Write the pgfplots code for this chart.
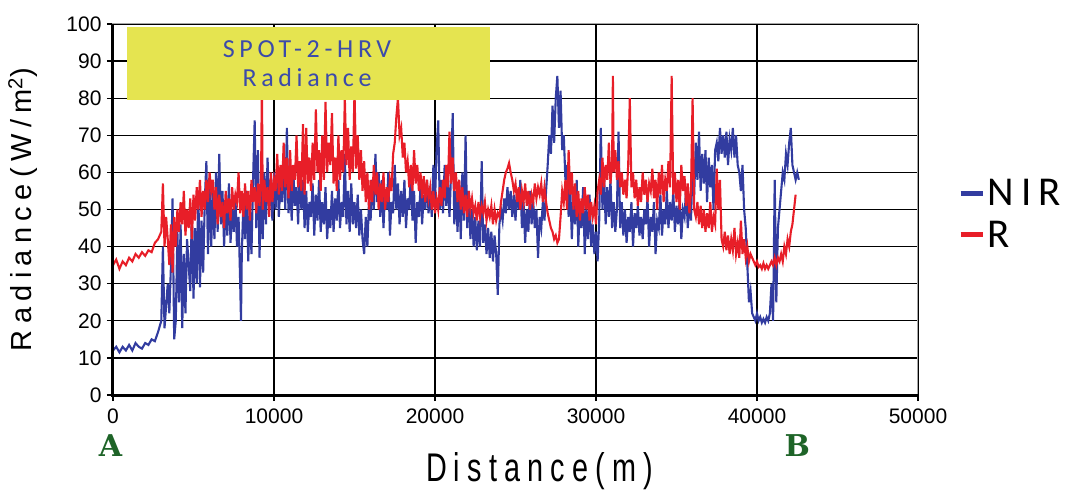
\documentclass[border=0pt]{standalone}
\usepackage{fontspec}
\setmainfont{Liberation Sans}
\newfontfamily\ylabfont[LetterSpace=22]{Liberation Sans}
\newfontfamily\xlabfont[FakeStretch=0.72,LetterSpace=18]{Liberation Sans}
\newfontfamily\legfont[LetterSpace=18]{Carlito}
\newfontfamily\boxfont[LetterSpace=18]{Carlito}
\newfontfamily\abfont{DejaVu Serif}
\usepackage{pgfplots}
\pgfplotsset{compat=1.18}

\definecolor{nir}{RGB}{50,60,160}
\definecolor{red}{RGB}{232,30,40}
\definecolor{boxyellow}{RGB}{229,228,80}
\definecolor{boxblue}{RGB}{60,75,170}
\definecolor{abgreen}{RGB}{30,100,40}

\begin{document}
\begin{tikzpicture}
\path[use as bounding box] (-113pt,-95pt) rectangle (956pt,395pt);
\begin{axis}[
    at={(0pt,0pt)}, anchor=south west,
    width=805pt, height=371pt, scale only axis,
    xmin=0, xmax=50000, ymin=0, ymax=100,
    xtick={0,10000,...,50000}, ytick={0,10,...,100},
    scaled x ticks=false,
    /pgf/number format/1000 sep={},
    /pgf/number format/assume math mode=true,
    tick label style={font=\fontsize{21}{24}\selectfont},
    xticklabel style={yshift=-4pt},
    yticklabel style={xshift=-2pt},
    tick pos=left, tick align=outside,
    major tick length=6pt,
    tick style={black, line width=1.2pt},
    grid=major,
    grid style={black, line width=1.3pt},
    axis line style={draw=gray!70, line width=1pt},
    xlabel={\xlabfont\fontsize{40}{42}\selectfont Distance(m)},
    xlabel style={at={(axis description cs:0.530,-0.205)}, anchor=center},
    ylabel={\ylabfont\fontsize{29}{32}\selectfont Radiance(W/m\textsuperscript{2})},
    ylabel style={at={(axis description cs:-0.112,0.5)}, anchor=center},
    no markers,
    clip=false,
    legend style={draw=none, fill=none, at={(1.046,0.488)}, anchor=west,
        font=\legfont\fontsize{41}{44}\selectfont, row sep=10pt,
        legend cell align=left},
    legend image code/.code={\draw[#1, line width=5pt] (0pt,0pt) -- (22pt,0pt);},
]

% NIR
\addplot[nir, line width=2.1pt] coordinates {
(0,12) (200,13) (400,11.5) (600,13) (800,12) (1000,13.5) (1200,12) (1400,14) (1600,13) (1800,12.5)
(2000,14) (2200,13.5) (2400,15) (2600,14.5) (2800,17) (3000,20) (3100,40) (3200,18) (3400,30) (3500,22)
(3600,35) (3700,53) (3800,15) (3900,20) (4000,44) (4100,25) (4200,46) (4300,18) (4400,38) (4500,22)
(4600,42) (4800,28) (4900,50) (5000,26) (5100,45) (5200,30) (5300,55) (5400,29) (5500,47) (5600,33)
(5700,52) (5800,63) (5900,38) (6000,58) (6100,40) (6200,55) (6300,42) (6400,60) (6500,44) (6600,65)
(6700,46) (6800,55) (6900,40) (7000,52) (7100,43) (7200,57) (7300,41) (7400,50) (7500,44) (7600,54)
(7700,40) (7800,48) (7900,30) (7950,20) (8000,38) (8100,52) (8200,42) (8300,55) (8400,36) (8500,50)
(8600,38) (8700,58) (8800,74) (8900,45) (9000,66) (9100,37) (9200,55) (9300,42) (9400,60) (9500,46)
(9600,64) (9700,50) (9800,58) (9900,47) (10000,60) (10100,50) (10200,62) (10300,48) (10400,57) (10500,52)
(10600,64) (10700,50) (10800,72) (10900,49) (11000,58) (11100,47) (11200,60) (11300,51) (11400,56) (11500,46)
(11600,62) (11700,50) (11800,58) (11900,45) (12000,55) (12100,44) (12200,52) (12300,48) (12400,57) (12500,43)
(12600,54) (12700,47) (12800,58) (12900,44) (13000,52) (13100,46) (13200,56) (13300,42) (13400,50) (13500,45)
(13600,55) (13700,44) (13800,53) (13900,47) (14000,58) (14100,45) (14200,52) (14300,48) (14400,65) (14500,46)
(14600,55) (14700,44) (14800,57) (14900,46) (15000,52) (15100,45) (15200,54) (15300,43) (15400,50) (15500,42)
(15600,38) (15700,48) (15800,40) (15900,52) (16000,47) (16100,58) (16200,50) (16300,65) (16400,52) (16500,60)
(16600,48) (16700,58) (16800,45) (16900,55) (17000,50) (17100,60) (17200,43) (17300,52) (17400,49) (17500,62)
(17600,50) (17700,57) (17800,46) (17900,55) (18000,48) (18100,58) (18200,45) (18300,53) (18400,50) (18500,60)
(18600,47) (18700,55) (18800,41) (18900,52) (19000,48) (19100,56) (19200,46) (19300,54) (19400,50) (19500,58)
(19600,49) (19700,55) (19800,48) (19900,62) (20000,52) (20100,66) (20200,74) (20300,50) (20400,58) (20500,49)
(20600,62) (20700,51) (20800,57) (20900,48) (21000,60) (21100,76) (21200,46) (21300,55) (21400,44) (21500,58)
(21600,42) (21700,60) (21800,47) (21900,70) (22000,45) (22100,55) (22200,42) (22300,50) (22400,40) (22500,48)
(22600,39) (22700,47) (22800,40) (22900,63) (23000,41) (23100,46) (23200,38) (23300,45) (23400,37) (23500,44)
(23600,36) (23700,43) (23800,38) (23900,27) (24000,46) (24100,50) (24200,47) (24300,53) (24400,49) (24500,56)
(24600,50) (24700,55) (24800,48) (24900,54) (25000,47) (25100,55) (25200,50) (25300,58) (25400,45) (25500,52)
(25600,41) (25700,50) (25800,44) (25900,55) (26000,46) (26100,52) (26200,45) (26300,50) (26400,37) (26500,48)
(26600,45) (26700,52) (26800,47) (26900,55) (27000,62) (27100,70) (27200,65) (27300,78) (27400,68) (27500,80)
(27600,86) (27700,72) (27800,82) (27900,66) (28000,70) (28100,58) (28200,62) (28300,48) (28400,56) (28500,42)
(28600,54) (28700,46) (28800,58) (28900,40) (29000,52) (29100,45) (29200,56) (29300,38) (29400,50) (29500,42)
(29600,54) (29700,40) (29800,46) (29900,38) (30000,44) (30100,36) (30200,47) (30300,72) (30400,50) (30500,60)
(30600,46) (30700,56) (30800,48) (30900,58) (31000,45) (31100,52) (31200,44) (31300,50) (31400,71) (31500,45)
(31600,52) (31700,43) (31800,50) (31900,41) (32000,48) (32100,44) (32200,52) (32300,40) (32400,49) (32500,45)
(32600,51) (32700,43) (32800,48) (32900,42) (33000,50) (33100,46) (33200,53) (33300,40) (33400,48) (33500,44)
(33600,52) (33700,38) (33800,47) (33900,45) (34000,54) (34100,43) (34200,50) (34300,46) (34400,55) (34500,45)
(34600,52) (34700,47) (34800,55) (34900,44) (35000,51) (35100,46) (35200,53) (35300,42) (35400,50) (35500,48)
(35600,56) (35700,45) (35800,52) (35900,47) (36000,62) (36100,54) (36200,68) (36300,58) (36400,71) (36500,55)
(36600,65) (36700,57) (36800,66) (36900,52) (37000,64) (37100,56) (37200,62) (37300,50) (37400,66) (37500,68)
(37600,63) (37700,72) (37800,65) (37900,70) (38000,64) (38100,71) (38200,62) (38300,69) (38400,66) (38500,72)
(38600,64) (38700,70) (38800,62) (38900,60) (39000,55) (39100,62) (39200,50) (39300,45) (39400,35) (39500,25)
(39600,28) (39700,22) (39800,21) (39900,20) (40000,22) (40100,20) (40200,21) (40300,19.5) (40400,20.5) (40500,19.5)
(40600,21) (40700,20) (40800,22) (40900,30) (41000,20) (41100,58) (41200,25) (41300,45) (41400,50) (41500,55)
(41600,60) (41700,58) (41800,65) (41900,62) (42000,68) (42100,72) (42200,62) (42300,60) (42400,58) (42500,60)
(42600,58)
};
\addlegendentry{NIR}

% R
\addplot[red, line width=2.1pt] coordinates {
(0,35) (200,36.5) (400,34) (600,36) (800,35) (1000,37) (1200,36) (1400,38) (1600,37) (1800,38.5)
(2000,37.5) (2200,39) (2400,38.5) (2600,41) (2800,42) (3000,44) (3100,57) (3200,40) (3300,48) (3400,42)
(3500,35) (3600,46) (3700,33) (3800,48) (3900,40) (4000,50) (4100,44) (4200,52) (4300,46) (4400,55)
(4500,43) (4600,50) (4700,45) (4800,53) (4900,42) (5000,54) (5100,47) (5200,56) (5300,50) (5400,58)
(5500,48) (5600,55) (5700,50) (5800,58) (5900,52) (6000,60) (6100,55) (6200,58) (6300,50) (6400,56)
(6500,46) (6600,54) (6700,48) (6800,52) (6900,45) (7000,55) (7100,49) (7200,53) (7300,47) (7400,56)
(7500,50) (7600,54) (7700,52) (7800,60) (7900,49) (8000,55) (8100,48) (8200,57) (8300,50) (8400,55)
(8500,47) (8600,58) (8700,52) (8800,56) (8900,49) (9000,57) (9100,51) (9200,60) (9250,85) (9300,50)
(9400,58) (9500,52) (9600,56) (9700,48) (9800,60) (9900,52) (10000,58) (10100,55) (10200,65) (10300,54)
(10400,62) (10500,55) (10600,68) (10700,56) (10800,64) (10900,53) (11000,66) (11100,55) (11200,62) (11300,58)
(11400,70) (11500,56) (11600,63) (11700,55) (11800,73) (11900,54) (12000,72) (12100,57) (12200,64) (12300,55)
(12400,68) (12500,58) (12600,77) (12700,60) (12800,66) (12900,55) (13000,70) (13100,58) (13200,79) (13300,60)
(13400,68) (13500,62) (13600,76) (13700,57) (13800,64) (13900,55) (14000,70) (14100,58) (14200,66) (14300,60)
(14400,80) (14500,62) (14600,72) (14700,58) (14800,67) (14900,60) (15000,82) (15100,61) (15200,70) (15300,58)
(15400,66) (15500,55) (15600,63) (15700,52) (15800,60) (15900,50) (16000,58) (16100,52) (16200,62) (16300,54)
(16400,60) (16500,50) (16600,57) (16700,52) (16800,60) (16900,50) (17000,56) (17100,52) (17200,58) (17300,55)
(17400,65) (17500,68) (17600,75) (17700,80) (17800,70) (17900,72) (18000,64) (18100,68) (18200,60) (18300,63)
(18400,56) (18500,62) (18600,55) (18700,66) (18800,57) (18900,62) (19000,55) (19100,60) (19200,53) (19300,59)
(19400,52) (19500,58) (19600,53) (19700,56) (19800,50) (19900,55) (20000,49) (20100,53) (20200,50) (20300,56)
(20400,51) (20500,58) (20600,53) (20700,62) (20800,56) (20900,71) (21000,57) (21100,64) (21200,55) (21300,60)
(21400,52) (21500,58) (21600,50) (21700,56) (21800,49) (21900,54) (22000,48) (22100,55) (22200,50) (22300,53)
(22400,49) (22500,51) (22600,47) (22700,52) (22800,48) (22900,51) (23000,49) (23100,52) (23200,47) (23300,50)
(23400,48) (23500,51) (23600,46) (23700,50) (23800,47) (23900,49) (24000,48) (24100,52) (24200,55) (24300,58)
(24400,60) (24500,61) (24600,62.5) (24700,60) (24800,58) (24900,55) (25000,57) (25100,52) (25200,56) (25300,50)
(25400,55) (25500,52) (25600,57) (25700,51) (25800,55) (25900,50) (26000,54) (26100,52) (26200,57) (26300,53)
(26400,56) (26500,54) (26600,57) (26700,52) (26800,56) (26900,52) (27000,49) (27100,47) (27200,45) (27300,44)
(27400,42) (27500,43) (27600,41) (27700,42) (27800,48) (27900,55) (28000,52) (28100,58) (28200,50) (28300,66)
(28400,54) (28500,60) (28600,50) (28700,57) (28800,48) (28900,55) (29000,47) (29100,53) (29200,49) (29300,56)
(29400,50) (29500,54) (29600,47) (29700,52) (29800,48) (29900,51) (30000,46) (30100,55) (30200,58) (30300,54)
(30400,64) (30500,56) (30600,62) (30700,58) (30800,68) (30900,57) (31000,63) (31050,86) (31100,60) (31200,66)
(31300,58) (31400,63) (31500,56) (31600,60) (31700,54) (31800,58) (31900,53) (32000,62) (32100,80) (32200,56)
(32300,60) (32400,53) (32500,58) (32600,51) (32700,56) (32800,52) (32900,60) (33000,54) (33100,58) (33200,52)
(33300,57) (33400,55) (33500,61) (33600,53) (33700,58) (33800,50) (33900,60) (34000,54) (34100,62) (34200,52)
(34300,58) (34400,55) (34500,63) (34600,56) (34700,86) (34800,54) (34900,60) (35000,52) (35100,58) (35200,50)
(35300,62) (35400,55) (35500,59) (35600,51) (35700,57) (35800,49) (35900,55) (36000,80) (36100,50) (36200,48)
(36300,52) (36400,46) (36500,51) (36600,45) (36700,50) (36800,44) (36900,49) (37000,45) (37100,52) (37200,44)
(37300,48) (37400,46) (37500,61) (37600,50) (37700,58) (37800,42) (37900,40) (38000,44) (38100,39) (38200,43)
(38300,38) (38400,42) (38500,39) (38600,45) (38700,38) (38800,41) (38900,37) (39000,47) (39100,38) (39200,42)
(39300,37) (39400,40) (39500,36) (39600,38) (39700,37) (39800,36) (39900,35) (40000,36) (40100,34.5) (40200,35)
(40300,34) (40400,35.5) (40500,34) (40600,35) (40700,34) (40800,35) (40900,36) (41000,35) (41100,37) (41200,35)
(41300,37) (41400,36) (41500,38) (41600,36) (41700,40) (41800,38) (41900,42) (42000,40) (42100,44) (42200,46)
(42300,50) (42400,54)
};
\addlegendentry{R}

% heavy left and bottom axis lines
\draw[black, line width=3pt] (rel axis cs:0,1) -- (rel axis cs:0,0) -- (rel axis cs:1,0);

% title box
\fill[boxyellow] (axis cs:870,79.5) rectangle (axis cs:23400,99.2);
\node[boxblue, align=center, font=\boxfont\fontsize{26}{29}\selectfont]
    at (axis cs:12050,89.2) {SPOT-2-HRV\\Radiance};

% end points of the transect
\node[abgreen, font=\abfont\bfseries\fontsize{30}{30}\selectfont] at (axis cs:-150,-13.5) {A};
\node[abgreen, font=\abfont\bfseries\fontsize{30}{30}\selectfont] at (axis cs:42500,-13.5) {B};

\end{axis}
\end{tikzpicture}
\end{document}
